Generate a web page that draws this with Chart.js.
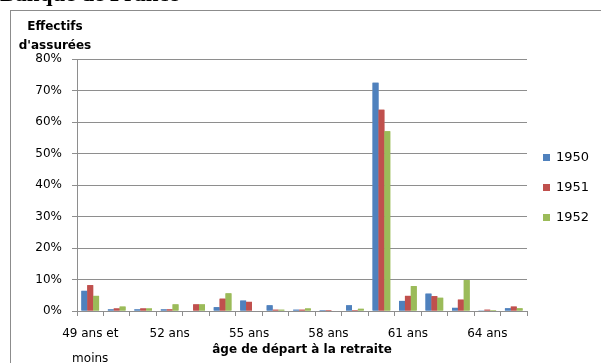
<!DOCTYPE html>
<html>

<head>
    <title>Effectifs d'assurées par âge de départ</title>
    <script src="https://cdn.jsdelivr.net/npm/chart.js@4/dist/chart.umd.min.js"></script>
    <style>
        body {
            margin: 0;
            font-family: "DejaVu Sans", sans-serif;
        }

        #wrap {
            position: relative;
            width: 601px;
            height: 363px;
            overflow: hidden;
        }

        #bdf {
            position: absolute;
            left: 0;
            top: -19px;
            font-family: "Liberation Serif", serif;
            font-weight: bold;
            font-size: 23px;
            color: black;
            white-space: nowrap;
        }

        #ytitle {
            position: absolute;
            left: 14px;
            top: 17px;
            width: 82px;
            text-align: center;
            font-weight: bold;
            font-size: 12px;
            line-height: 19px;
        }

        #legend {
            position: absolute;
            left: 543px;
            top: 149px;
            font-size: 13px;
        }

        .item {
            height: 30px;
            display: flex;
            align-items: flex-start;
        }

        .swatch {
            width: 7px;
            height: 7px;
            margin-top: 5px;
            margin-right: 6px;
        }

        canvas {
            position: absolute;
            left: 0;
            top: 0;
        }
    </style>
</head>

<body>
    <div id="wrap">
        <canvas id="ages" width="601" height="363"></canvas>
        <div id="bdf">Banque de France</div>
        <div id="ytitle">Effectifs<br>d'assurées</div>
        <div id="legend"></div>
    </div>

    <script>
        // âge de départ, 49 ans et moins ... 65 ans
        const categories = ['49 ans et moins', '50 ans', '51 ans', '52 ans', '53 ans', '54 ans', '55 ans', '56 ans',
            '57 ans', '58 ans', '59 ans', '60 ans', '61 ans', '62 ans', '63 ans', '64 ans', '65 ans']
        const years = ['1950', '1951', '1952']
        const colors = ['#4f81bd', '#c0504d', '#9bbb59']

        // part des assurées (%) par génération
        const gen1950 = [6.4, 0.5, 0.5, 0.5, 0, 1.2, 3.3, 1.8, 0.4, 0.3, 1.8, 72.5, 3.2, 5.5, 1.0, 0.1, 0.85]
        const gen1951 = [8.2, 0.8, 0.8, 0.5, 2.1, 3.9, 2.9, 0.4, 0.4, 0.3, 0.3, 63.9, 4.8, 4.7, 3.6, 0.4, 1.4]
        const gen1952 = [4.8, 1.4, 0.8, 2.1, 2.1, 5.6, 0, 0.4, 0.8, 0, 0.7, 57.1, 7.9, 4.2, 9.8, 0.3, 0.85]

        const yTicks = [0, 10, 20, 30, 40, 50, 60, 70, 80]

        const series = [gen1950, gen1951, gen1952]
        const gridColor = '#8e8e8e'

        // outer frame, one thin line per y tick, then the bars again on top
        const hLines = {
            id: 'hLines',
            afterDraw(chart) {
                const { ctx, chartArea, scales } = chart
                ctx.save()
                ctx.strokeStyle = '#8c8c8c'
                ctx.lineWidth = 1
                ctx.strokeRect(10.5, 10.5, 700, 400)
                ctx.strokeStyle = gridColor
                scales.y.ticks.forEach(t => {
                    if (t.value === yTicks[0]) return
                    const y = Math.floor(scales.y.getPixelForValue(t.value)) + 0.5
                    ctx.beginPath()
                    ctx.moveTo(chartArea.left + 1, y)
                    ctx.lineTo(chartArea.right, y)
                    ctx.stroke()
                })
                ctx.restore()
                chart.getSortedVisibleDatasetMetas().forEach(m => m.controller.draw())
            },
        }

        const ctx = document.getElementById('ages').getContext('2d')
        const chart = new Chart(ctx, {
            type: 'bar',
            data: {
                labels: categories,
                datasets: series.map((d, i) => ({
                    label: years[i],
                    data: d,
                    backgroundColor: colors[i],
                    categoryPercentage: 0.667,
                    barPercentage: 1.0,
                })),
            },
            plugins: [hLines],
            options: {
                responsive: false,
                animation: false,
                layout: { padding: { left: 0, top: 59, right: 74, bottom: 0 } },
                plugins: {
                    legend: { display: false },
                    tooltip: { enabled: false },
                },
                scales: {
                    x: {
                        afterFit: s => { s.height = 52 },
                        grid: { drawOnChartArea: false, drawTicks: true, tickLength: 5, color: gridColor },
                        border: { color: gridColor },
                        ticks: {
                            autoSkip: false,
                            maxRotation: 0,
                            padding: 6,
                            color: '#000',
                            font: { family: 'DejaVu Sans', size: 12, lineHeight: 2.05 },
                            callback: (v, i) => {
                                if (i % 3 !== 0) return ''
                                return i === 0 ? ['49 ans et', 'moins'] : categories[i]
                            },
                        },
                        title: {
                            display: true,
                            text: 'âge de départ à la retraite',
                            color: '#000',
                            font: { family: 'DejaVu Sans', size: 12, weight: 'bold' },
                            padding: { top: 0, bottom: 6 },
                        },
                    },
                    y: {
                        min: yTicks[0],
                        max: yTicks[yTicks.length - 1],
                        afterFit: s => { s.width = 77 },
                        grid: { color: gridColor, tickLength: 5, drawOnChartArea: false },
                        border: { color: gridColor },
                        ticks: {
                            stepSize: yTicks[1] - yTicks[0],
                            padding: 10,
                            color: '#000',
                            font: { family: 'DejaVu Sans', size: 12 },
                            callback: v => v + '%',
                        },
                    },
                },
            },
        })

        // légende à droite
        const legend = document.getElementById('legend')
        years.forEach((y, i) => {
            const row = document.createElement('div')
            row.className = 'item'
            row.innerHTML = '<span class="swatch" style="background:' + colors[i] + '"></span><span>' + y + '</span>'
            legend.appendChild(row)
        })
    </script>
</body>

</html>
